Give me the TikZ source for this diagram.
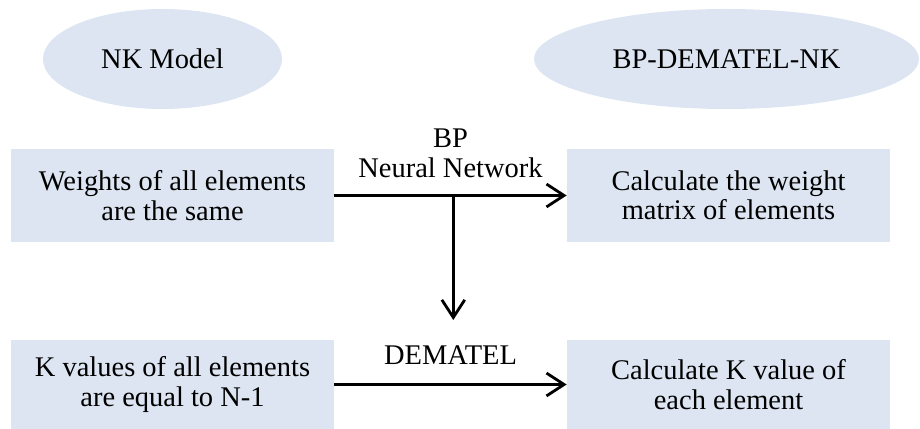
\documentclass[tikz,border=0pt]{standalone}
\usepackage{fontspec}
\setmainfont{Liberation Serif}
\usetikzlibrary{arrows.meta, positioning, shapes.geometric}
\definecolor{boxfill}{HTML}{DCE5F1}

\begin{document}
\begin{tikzpicture}[
  modelell/.style={
    ellipse, fill=boxfill, draw=none, inner sep=0pt,
    minimum height=2.0cm, font=\fontsize{16.2}{16.8}\selectfont
  },
  stagebox/.style={
    rectangle, fill=boxfill, draw=none, inner sep=0pt,
    minimum width=6.46cm, align=center,
    font=\fontsize{16.2}{16.8}\selectfont
  },
  farr/.style={-{Straight Barb[length=10pt, width=13pt]}, line width=1.6pt, black},
  lbl/.style={font=\fontsize{16.2}{16.8}\selectfont, align=center},
]
\useasboundingbox (0,0) rectangle (18.4,8.58);
% two model headings
\node[modelell, minimum width=4.78cm] (nk) at (3.25, 7.4) {NK Model};
\node[modelell, minimum width=7.7cm] (bpdn) at (14.53, 7.4) {BP-DEMATEL-NK};
% weights row
\node[stagebox, minimum height=1.86cm] (wsame) at (3.45, 4.67)
  {Weights of all elements\\are the same};
\node[stagebox, minimum height=1.86cm] (wcalc) at (14.57, 4.67)
  {Calculate the weight\\matrix of elements};
% K values row
\node[stagebox, minimum height=1.78cm] (ksame) at (3.45, 0.89)
  {K values of all elements\\are equal to N-1};
\node[stagebox, minimum height=1.78cm] (kcalc) at (14.57, 0.89)
  {Calculate K value of\\each element};
\draw[farr] (wsame.east) -- node[lbl, above=6pt] {BP\\Neural Network}
  coordinate[pos=0.512] (split) (wcalc.west);
\coordinate (splitend) at (split |- 0,2.18);
\draw[farr] (split) -- (splitend);
\draw[farr] (ksame.east) -- node[lbl, above=7pt] {DEMATEL} (kcalc.west);
\end{tikzpicture}
\end{document}
